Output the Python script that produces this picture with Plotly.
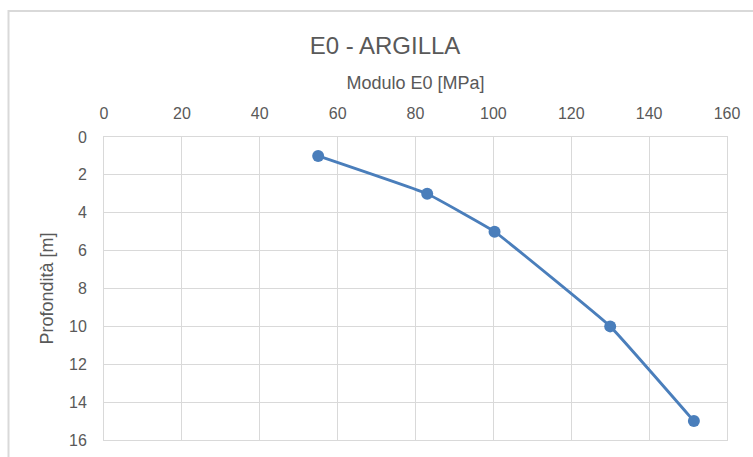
import plotly.graph_objects as go

# Modulo E0 vs depth for the clay layer
modulo_e0 = [55, 83, 100.3, 130, 151.5]
profondita = [1, 3, 5, 10, 15]
x_ticks = [0, 20, 40, 60, 80, 100, 120, 140, 160]
y_ticks = [0, 2, 4, 6, 8, 10, 12, 14, 16]

W, H = 753, 457
L, R, T, B = 104, 26, 137, 17
pw, ph = W - L - R, H - T - B

def px_to_paper_x(px):
    return (px - L) / pw

def px_to_paper_y(py):
    return 1 - (py - T) / ph

font = "Liberation Sans, Arial, sans-serif"
grey = "#595959"
grid = "#d9d9d9"
blue = "#4a7ebb"

fig = go.Figure()
fig.add_trace(go.Scatter(
    x=modulo_e0, y=profondita, mode="lines+markers",
    line=dict(color=blue, width=2.8, shape="spline", smoothing=0.25),
    marker=dict(color=blue, size=12),
    hoverinfo="x+y", showlegend=False,
))

fig.update_layout(
    width=W, height=H,
    margin=dict(l=L, r=R, t=T, b=B, autoexpand=False),
    paper_bgcolor="white", plot_bgcolor="white",
    font=dict(family=font, color=grey, size=16),
    title=dict(text="E0 - ARGILLA", x=px_to_paper_x(385), xref="paper", xanchor="center",
               y=1 - 46 / H, yref="container", yanchor="middle",
               font=dict(size=24, color=grey, family=font)),
    xaxis=dict(
        side="top", range=[0, 160], tickvals=x_ticks, automargin=False,
        showgrid=True, gridcolor=grid, gridwidth=1,
        showline=True, linecolor=grid, mirror=True, zeroline=False,
        ticks="outside", ticklen=11, tickcolor="rgba(0,0,0,0)",
        tickfont=dict(size=16, color=grey),
        title=dict(text="Modulo E0 [MPa]", font=dict(size=18, color=grey), standoff=10),
    ),
    yaxis=dict(
        range=[16, 0], tickvals=y_ticks, automargin=False,
        showgrid=True, gridcolor=grid, gridwidth=1,
        showline=True, linecolor=grid, mirror=True, zeroline=False,
        ticks="outside", ticklen=13, tickcolor="rgba(0,0,0,0)",
        tickfont=dict(size=16, color=grey),
        title=dict(text="Profondità [m]", font=dict(size=18, color=grey), standoff=10),
    ),
    shapes=[dict(
        type="rect", xref="paper", yref="paper", layer="below",
        x0=px_to_paper_x(8.5), x1=px_to_paper_x(770),
        y0=px_to_paper_y(475), y1=px_to_paper_y(11),
        line=dict(color="#d9d9d9", width=2), fillcolor="rgba(0,0,0,0)",
    )],
)

fig.write_html("out.html")
